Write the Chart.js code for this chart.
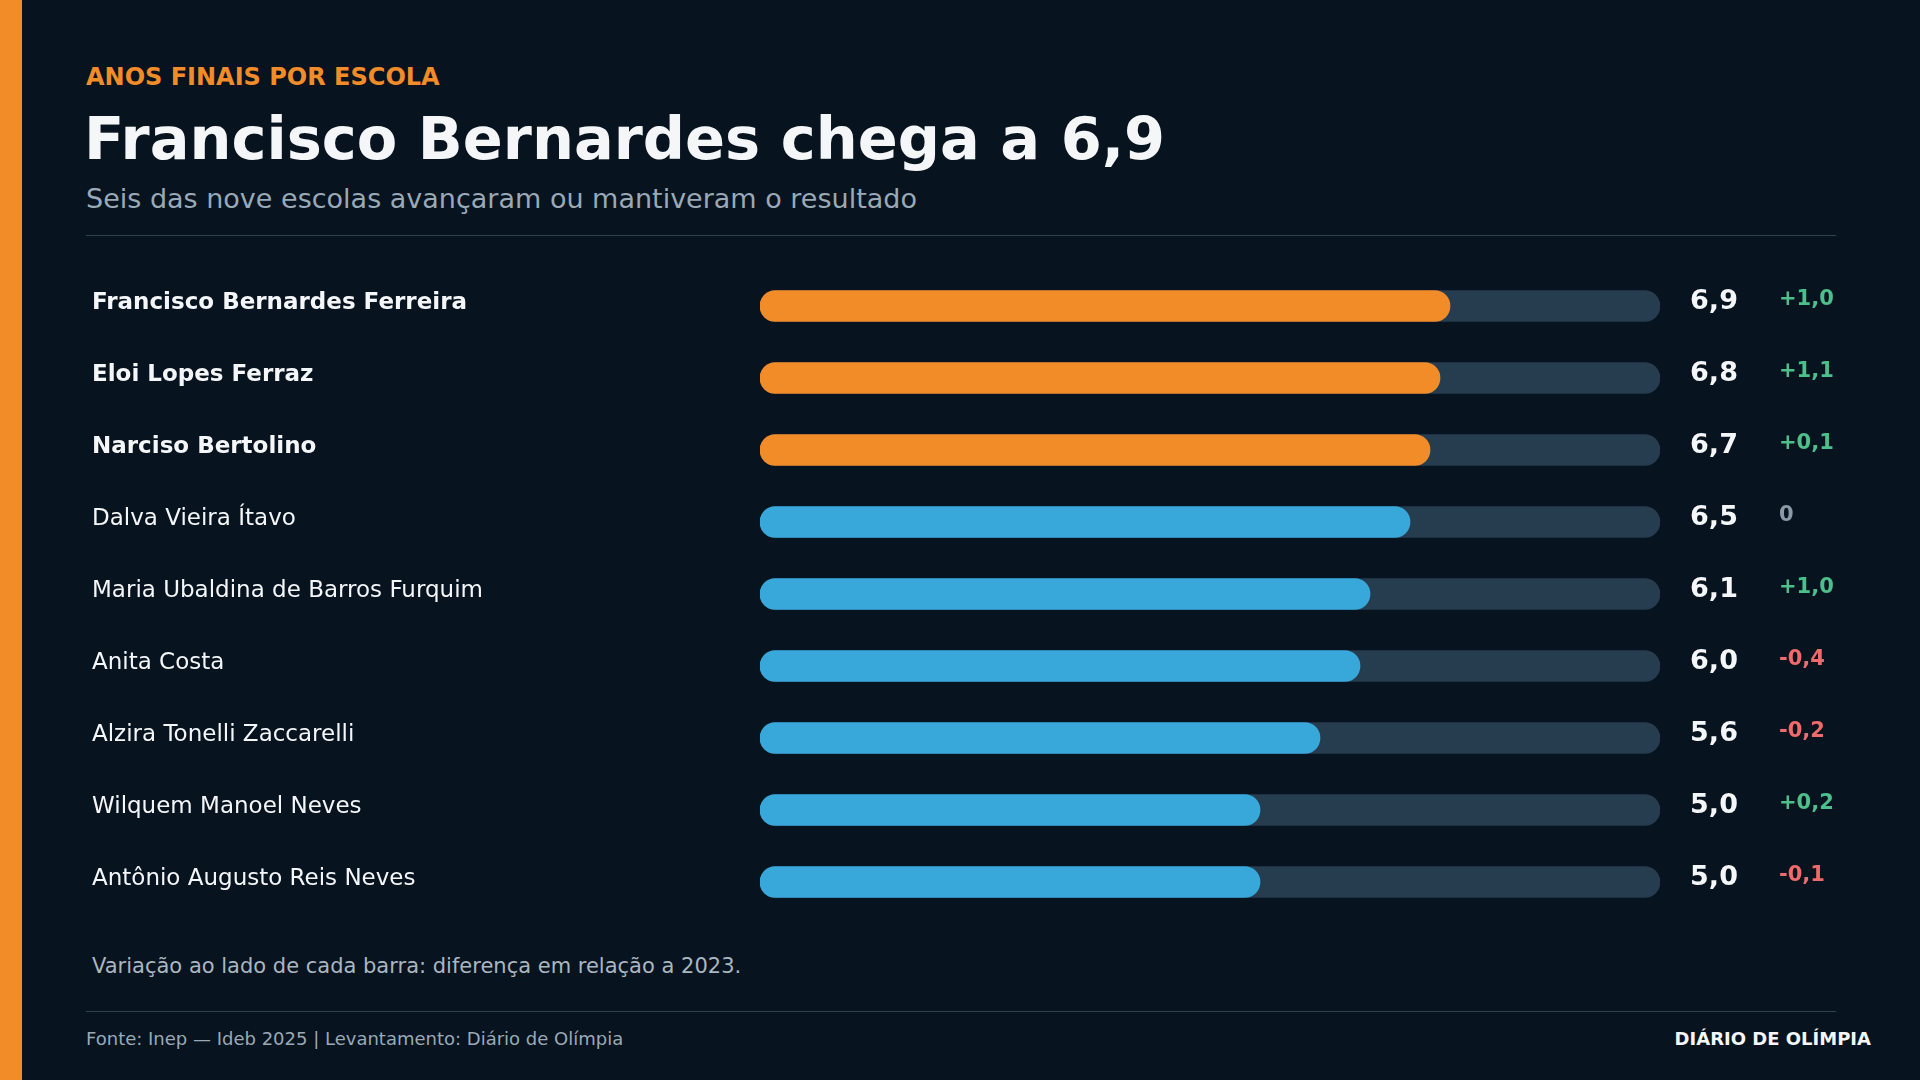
<!DOCTYPE html>
<html><head><meta charset="utf-8">
<script src="https://cdn.jsdelivr.net/npm/chart.js@4/dist/chart.umd.min.js"></script>
<style>
body{margin:0;width:1920px;height:1080px;background:#07131f;font-family:"DejaVu Sans",sans-serif;overflow:hidden;position:relative}
#strip{position:absolute;left:0;top:0;width:22px;height:1080px;background:#f28c28}
.t{position:absolute;white-space:nowrap}
#c{position:absolute;left:0;top:0}
</style></head><body>
<div id="strip"></div>
<div class="t" style="left:86px;top:63px;color:#f28c28;font-size:24px;font-weight:bold">ANOS FINAIS POR ESCOLA</div>
<div class="t" style="left:84px;top:104px;color:#f4f6f8;font-size:59px;font-weight:bold">Francisco Bernardes chega a 6,9</div>
<div class="t" style="left:86px;top:183px;color:#9aa9b6;font-size:27px">Seis das nove escolas avançaram ou mantiveram o resultado</div>
<div style="position:absolute;left:86px;top:235px;width:1750px;height:1px;background:#2b4350"></div>
<div class="t" style="left:92px;top:954px;color:#aab6c0;font-size:21px">Variação ao lado de cada barra: diferença em relação a 2023.</div>
<div style="position:absolute;left:86px;top:1011px;width:1750px;height:1px;background:#2b4350"></div>
<div class="t" style="left:86px;top:1028px;color:#9aa9b6;font-size:18px">Fonte: Inep — Ideb 2025 | Levantamento: Diário de Olímpia</div>
<div class="t" style="right:49px;top:1028px;color:#f4f6f8;font-size:18px;font-weight:bold">DIÁRIO DE OLÍMPIA</div>
<canvas id="c" width="1920" height="1080"></canvas>
<script>
const schools = ["Francisco Bernardes Ferreira","Eloi Lopes Ferraz","Narciso Bertolino","Dalva Vieira Ítavo","Maria Ubaldina de Barros Furquim","Anita Costa","Alzira Tonelli Zaccarelli","Wilquem Manoel Neves","Antônio Augusto Reis Neves"];
const scores = [6.9,6.8,6.7,6.5,6.1,6.0,5.6,5.0,5.0];
const deltas = ["+1,0","+1,1","+0,1","0","+1,0","-0,4","-0,2","+0,2","-0,1"];
const highlight = [true,true,true,false,false,false,false,false,false];
const scaleMax = 9;

const labelsPlugin = {
  id: "labels",
  afterDraw(chart) {
    const ctx = chart.ctx, y = chart.scales.y;
    ctx.save();
    ctx.textBaseline = "middle";
    schools.forEach((s, i) => {
      const py = y.getPixelForValue(i);
      ctx.fillStyle = "#f4f6f8";
      ctx.textAlign = "left";
      ctx.font = (highlight[i] ? "bold " : "") + "23px 'DejaVu Sans'";
      ctx.fillText(s, 92, py - 3);
      ctx.textAlign = "center";
      ctx.font = "bold 27px 'DejaVu Sans'";
      ctx.fillText(scores[i].toFixed(1).replace(".", ","), 1714, py - 4);
      const d = deltas[i];
      ctx.textAlign = "left";
      ctx.font = "bold 21px 'DejaVu Sans'";
      ctx.fillStyle = d === "0" ? "#8a9aa8" : d[0] === "+" ? "#4cc08a" : "#ef6b6b";
      ctx.fillText(d, 1779, py - 6);
    });
    ctx.restore();
  }
};

new Chart(document.getElementById("c"), {
  type: "bar",
  data: {
    labels: schools,
    datasets: [
      { data: scores, backgroundColor: highlight.map(h => h ? "#f28c28" : "#38a8db"),
        borderRadius: 16, borderSkipped: false, barThickness: 31, grouped: false, order: 0 },
      { data: schools.map(() => scaleMax), backgroundColor: "#263d50",
        borderRadius: 16, borderSkipped: false, barThickness: 31, grouped: false, order: 1 }
    ]
  },
  options: {
    indexAxis: "y", responsive: false, animation: false,
    layout: { padding: { left: 760, right: 260, top: 270, bottom: 162 } },
    plugins: { legend: { display: false }, tooltip: { enabled: false } },
    scales: {
      x: { display: false, min: 0, max: scaleMax },
      y: { display: false }
    }
  },
  plugins: [labelsPlugin]
});
</script>
</body></html>
